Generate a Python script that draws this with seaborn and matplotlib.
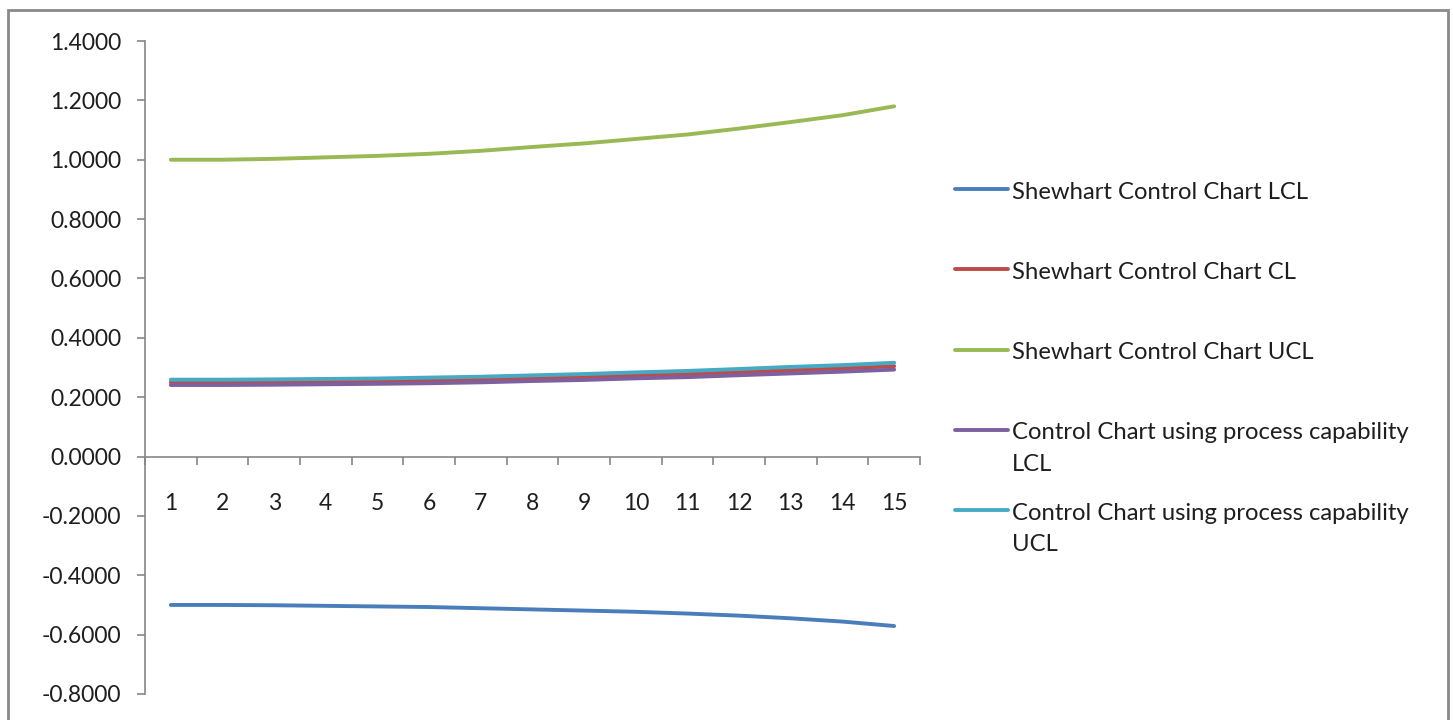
import numpy as np
import pandas as pd
import matplotlib
matplotlib.use("Agg")
import matplotlib.pyplot as plt
import seaborn as sns
from matplotlib.lines import Line2D
from matplotlib.patches import Rectangle
from matplotlib.ticker import FormatStrFormatter

# Sample numbers along the x axis
samples = list(range(1, 16))

# Control limits per sample
shewhart_lcl = [-0.500, -0.500, -0.501, -0.503, -0.505, -0.507, -0.511, -0.515,
                -0.519, -0.523, -0.529, -0.536, -0.545, -0.556, -0.571]
shewhart_cl = [0.250, 0.250, 0.251, 0.2525, 0.254, 0.2565, 0.2595, 0.264,
               0.268, 0.2735, 0.278, 0.2845, 0.291, 0.297, 0.3045]
shewhart_ucl = [1.000, 1.000, 1.003, 1.008, 1.013, 1.020, 1.030, 1.043,
                1.055, 1.070, 1.085, 1.105, 1.127, 1.150, 1.180]
capability_lcl = [0.241, 0.241, 0.242, 0.2435, 0.245, 0.247, 0.250, 0.2545,
                  0.258, 0.2635, 0.2675, 0.274, 0.280, 0.286, 0.293]
capability_ucl = [0.259, 0.259, 0.260, 0.2615, 0.263, 0.266, 0.269, 0.2735,
                  0.278, 0.2835, 0.2885, 0.295, 0.302, 0.308, 0.316]

series_names = [
    "Shewhart Control Chart LCL",
    "Shewhart Control Chart CL",
    "Shewhart Control Chart UCL",
    "Control Chart using process capability\nLCL",
    "Control Chart using process capability\nUCL",
]
series_values = [shewhart_lcl, shewhart_cl, shewhart_ucl, capability_lcl, capability_ucl]
series_colors = ["#4A7EBB", "#BE4B48", "#98B954", "#7D60A0", "#46AAC5"]

y_ticks = [-0.8, -0.6, -0.4, -0.2, 0.0, 0.2, 0.4, 0.6, 0.8, 1.0, 1.2, 1.4]

sns.set_theme(style="white")
plt.rcParams["font.family"] = ["Lato", "DejaVu Sans"]
plt.rcParams["lines.solid_capstyle"] = "round"
plt.rcParams["lines.solid_joinstyle"] = "round"

FIG_W, FIG_H = 1453, 720
fig = plt.figure(figsize=(FIG_W / 100, FIG_H / 100), dpi=100)
fig.patch.set_facecolor("white")

ax = fig.add_axes([145 / FIG_W, 26 / FIG_H, (920 - 145) / FIG_W, (694 - 41) / FIG_H])

records = []
for name, vals in zip(series_names, series_values):
    for s, v in zip(samples, vals):
        records.append({"sample": s, "value": v, "series": name})
df = pd.DataFrame(records)

sns.lineplot(data=df, x="sample", y="value", hue="series", hue_order=series_names,
             palette=series_colors, linewidth=2.8, sort=False, legend=False,
             estimator=None, ax=ax)

axis_color = "#868686"
text_color = "#1e1e1e"
fs = 16.5
legend_fs = 17.2

ax.set_xlim(0.5, 15.5)
ax.set_ylim(-0.8, 1.4)
ax.set_xlabel("")
ax.set_ylabel("")
ax.grid(False)
for side in ("top", "right"):
    ax.spines[side].set_visible(False)
ax.spines["left"].set_color(axis_color)
ax.spines["left"].set_linewidth(1.2)
ax.spines["bottom"].set_color(axis_color)
ax.spines["bottom"].set_linewidth(1.2)
ax.spines["bottom"].set_position(("data", 0))

ax.set_yticks(y_ticks)
ax.yaxis.set_major_formatter(FormatStrFormatter("%.4f"))
ax.tick_params(axis="y", which="major", direction="out", length=6, width=1.2,
               color=axis_color, pad=11, labelsize=fs, labelcolor=text_color, left=True)

# Category boundaries carry the tick marks, category centres carry the labels
ax.set_xticks(np.arange(0.5, 16, 1.0))
ax.set_xticklabels([])
ax.set_xticks(samples, minor=True)
ax.set_xticklabels([str(s) for s in samples], minor=True)
ax.tick_params(axis="x", which="major", direction="out", length=6, width=1.2,
               color=axis_color, bottom=True)
ax.tick_params(axis="x", which="minor", length=0, pad=26, labelsize=fs,
               labelcolor=text_color, bottom=True)

# Legend: every entry gets a two-line slot so the rows are evenly spaced
handles = [Line2D([0], [0], color=c, lw=2.8) for c in series_colors]
labels = [n if "\n" in n else n + "\n" for n in series_names]
leg = ax.legend(handles, labels, loc="upper left",
                bbox_to_anchor=(955 / FIG_W, 1 - 182 / FIG_H),
                bbox_transform=fig.transFigure, frameon=False, fontsize=legend_fs,
                handlelength=2.2, handletextpad=0.2, borderpad=0, borderaxespad=0,
                labelspacing=1.17)
for t in leg.get_texts():
    t.set_color(text_color)
    t.set_linespacing(1.6)
for ln in leg.get_lines():
    ln.set_ydata(np.asarray(ln.get_ydata(), dtype=float) + 13.7)

# Chart frame
fig.patches.append(Rectangle((8 / FIG_W, -0.05), 1440 / FIG_W, 1.05 - 10 / FIG_H,
                             transform=fig.transFigure, fill=False,
                             edgecolor="#8a8a8a", linewidth=2.0, zorder=0))

fig.savefig("out.png", dpi=100, facecolor="white")
